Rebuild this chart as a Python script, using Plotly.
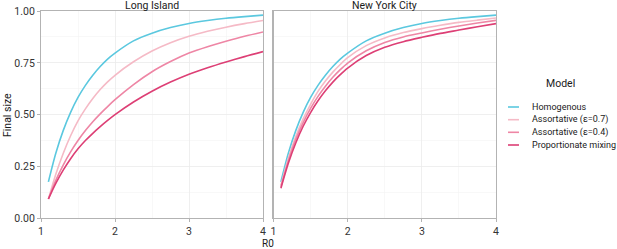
import plotly.graph_objects as go

r0 = [1.1, 1.2, 1.3, 1.4, 1.5, 1.6, 1.7, 1.8, 1.9, 2.0, 2.25, 2.5, 2.75, 3.0, 3.25, 3.5, 3.75, 4.0]

models = ["Homogenous", "Assortative (ε=0.7)", "Assortative (ε=0.4)", "Proportionate mixing"]
colors = ["#5BC8DF", "#F5BAC6", "#EE86A5", "#DD3F75"]

li_homog = [0.176, 0.314, 0.423, 0.511, 0.583, 0.641, 0.690, 0.732, 0.768, 0.797, 0.856, 0.893, 0.920, 0.940, 0.954, 0.965, 0.973, 0.980]
li_ass07 = [0.093, 0.213, 0.313, 0.398, 0.470, 0.528, 0.578, 0.621, 0.658, 0.690, 0.755, 0.807, 0.847, 0.878, 0.902, 0.922, 0.939, 0.954]
li_ass04 = [0.093, 0.183, 0.257, 0.320, 0.375, 0.423, 0.466, 0.504, 0.539, 0.572, 0.645, 0.707, 0.756, 0.797, 0.828, 0.854, 0.878, 0.899]
li_prop = [0.093, 0.168, 0.232, 0.287, 0.335, 0.375, 0.410, 0.442, 0.472, 0.500, 0.561, 0.613, 0.657, 0.695, 0.726, 0.754, 0.780, 0.804]

nyc_homog = [0.176, 0.314, 0.423, 0.511, 0.583, 0.641, 0.690, 0.732, 0.768, 0.797, 0.856, 0.893, 0.920, 0.940, 0.954, 0.965, 0.973, 0.980]
nyc_ass07 = [0.160, 0.290, 0.395, 0.480, 0.550, 0.612, 0.662, 0.705, 0.742, 0.775, 0.833, 0.870, 0.896, 0.915, 0.931, 0.945, 0.956, 0.966]
nyc_ass04 = [0.152, 0.277, 0.380, 0.462, 0.530, 0.588, 0.637, 0.680, 0.717, 0.749, 0.808, 0.848, 0.875, 0.894, 0.912, 0.928, 0.942, 0.955]
nyc_prop = [0.145, 0.265, 0.363, 0.444, 0.510, 0.567, 0.615, 0.657, 0.693, 0.725, 0.785, 0.825, 0.852, 0.873, 0.892, 0.908, 0.924, 0.939]

panels = ["Long Island", "New York City"]
x_ticks = [1, 2, 3, 4]
y_ticks = [0, 0.25, 0.5, 0.75, 1.0]
y_tick_labels = ["0.00", "0.25", "0.50", "0.75", "1.00"]

W, H = 617, 249
FONT = "Roboto, Arial, sans-serif"

fig = go.Figure()
series = [[li_homog, li_ass07, li_ass04, li_prop], [nyc_homog, nyc_ass07, nyc_ass04, nyc_prop]]
for p, sers in enumerate(series):
    xa = "x" if p == 0 else "x2"
    ya = "y" if p == 0 else "y2"
    for name, vals, col in zip(models, sers, colors):
        fig.add_trace(go.Scatter(x=r0, y=vals, mode="lines", name=name, xaxis=xa, yaxis=ya,
                                 line=dict(color=col, width=1.6, shape="spline", smoothing=0.8),
                                 showlegend=False, hoverinfo="skip"))

ytop = (H - 11) / H
ybot = (H - 218.3) / H
dom1 = [41 / W, 263 / W]
dom2 = [273.5 / W, 496 / W]

base = dict(showline=True, mirror=True, linecolor="#B3B3B3", linewidth=1.1,
            showgrid=True, gridcolor="#EBEBEB", gridwidth=0.8, automargin=False,
            tickcolor="#B3B3B3", tickwidth=1, ticklen=3,
            zeroline=False, tickfont=dict(family=FONT, size=10.5, color="#333333"))
xminor = dict(showgrid=True, gridcolor="#F4F4F4", gridwidth=0.6, tickvals=[1.5, 2.5, 3.5], ticks="")
yminor = dict(showgrid=True, gridcolor="#F4F4F4", gridwidth=0.6, tickvals=[0.125, 0.375, 0.625, 0.875], ticks="")

fig.update_layout(
    width=W, height=H, margin=dict(l=0, r=0, t=0, b=0, pad=0, autoexpand=False),
    paper_bgcolor="white", plot_bgcolor="white", showlegend=False,
    xaxis=dict(domain=dom1, range=[1, 4], tickvals=x_ticks, anchor="y", ticks="outside", minor=xminor, **base),
    xaxis2=dict(domain=dom2, range=[1, 4], tickvals=x_ticks, anchor="y2", ticks="outside", minor=xminor, **base),
    yaxis=dict(domain=[ybot, ytop], range=[0, 1], tickvals=y_ticks, ticktext=y_tick_labels, anchor="x",
               ticks="outside", minor=yminor, **base),
    yaxis2=dict(domain=[ybot, ytop], range=[0, 1], tickvals=y_ticks, anchor="x2", showticklabels=False,
                ticks="", minor=yminor, **base),
)

ann = []
for name, dom in zip(panels, [dom1, dom2]):
    ann.append(dict(text=name, x=(dom[0] + dom[1]) / 2, y=(H - 5.5) / H, xref="paper", yref="paper",
                    showarrow=False, xanchor="center", yanchor="middle",
                    font=dict(family=FONT, size=10.5, color="#1A1A1A")))
ann.append(dict(text="R0", x=268 / W, y=(H - 243) / H, xref="paper", yref="paper", showarrow=False,
                xanchor="center", yanchor="middle", font=dict(family=FONT, size=10, color="#1A1A1A")))
ann.append(dict(text="Final size", x=8 / W, y=(H - 115) / H, xref="paper", yref="paper", showarrow=False,
                textangle=-90, xanchor="center", yanchor="middle", font=dict(family=FONT, size=10.5, color="#1A1A1A")))
ann.append(dict(text="Model", x=560 / W, y=(H - 83) / H, xref="paper", yref="paper", showarrow=False,
                xanchor="center", yanchor="middle", font=dict(family=FONT, size=10.5, color="#1A1A1A")))

shapes = []
legend_y = [107, 119.7, 132.3, 145]
for name, col, ly in zip(models, colors, legend_y):
    shapes.append(dict(type="line", xref="paper", yref="paper", x0=508 / W, x1=519 / W,
                       y0=(H - ly) / H, y1=(H - ly) / H, line=dict(color=col, width=1.6)))
    ann.append(dict(text=name, x=530 / W, y=(H - ly) / H, xref="paper", yref="paper", showarrow=False,
                    xanchor="left", yanchor="middle", font=dict(family=FONT, size=9, color="#1A1A1A")))

fig.update_layout(annotations=ann, shapes=shapes)
fig.write_html("out.html", config={"displayModeBar": False, "staticPlot": True},
               post_script="document.body.style.margin='0';document.body.style.overflow='hidden';")
